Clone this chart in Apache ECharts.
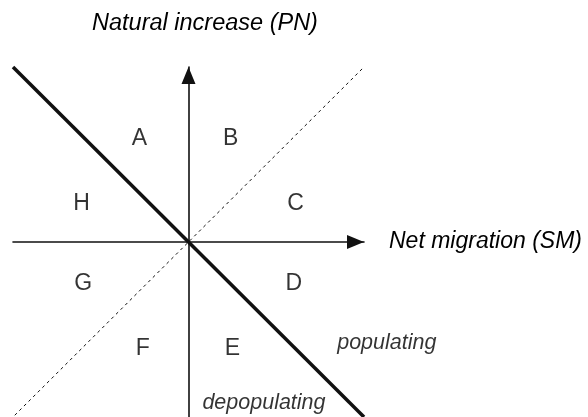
<!DOCTYPE html>
<html>
<head>
<meta charset="utf-8">
<script src="https://cdn.jsdelivr.net/npm/echarts@6/dist/echarts.min.js"></script>
<style>
  html, body { margin: 0; padding: 0; background: #fff; }
  #chart { width: 588px; height: 417px; }
</style>
</head>
<body>
<div id="chart"></div>
<script>
// region letters, placed in data units (axes run -1..1)
const regionNames = ['A', 'B', 'C', 'D', 'E', 'F', 'G', 'H']
const regionX = [-0.28, 0.24, 0.61, 0.60, 0.25, -0.26, -0.60, -0.61]
const regionY = [0.59, 0.59, 0.22, -0.24, -0.61, -0.61, -0.24, 0.22]

// the two dividing lines
const balanceLine = [[-1, 1], [1, -1]]      // thick: PN + SM = 0
const equalLine = [[-0.99, -0.99], [1, 1]]  // dashed: PN = SM

// side notes of the thick line
const noteNames = ['populating', 'depopulating']
const noteX = [1.13, 0.43]
const noteY = [-0.58, -0.92]

const xName = 'Net migration (SM)'
const yName = 'Natural increase (PN)'

const font = '"Liberation Sans", Arial, sans-serif'
const ink = '#111'

const chart = echarts.init(document.getElementById('chart'))

const axisBase = {
  type: 'value',
  min: -1,
  max: 1,
  splitLine: { show: false },
  axisTick: { show: false },
  axisLabel: { show: false },
  axisLine: {
    onZero: true,
    symbol: ['none', 'triangle'],
    symbolSize: [14, 17],
    symbolOffset: [0, -8.5],
    lineStyle: { color: ink, width: 1.6 }
  }
}

chart.setOption({
  animation: false,
  title: {
    text: yName,
    left: 87,
    top: 7,
    textStyle: { fontFamily: font, fontSize: 23.5, fontStyle: 'italic', fontWeight: 'normal', color: '#000' }
  },
  grid: { left: 13, top: 67, width: 351, height: 350 },
  xAxis: Object.assign({}, axisBase, {
    name: xName,
    nameLocation: 'end',
    nameGap: 25,
    nameTextStyle: { fontFamily: font, fontSize: 23, fontStyle: 'italic', color: '#000' }
  }),
  yAxis: Object.assign({}, axisBase),
  series: [
    {
      type: 'line',
      data: balanceLine,
      symbol: 'none',
      lineStyle: { color: ink, width: 3.5 },
      z: 3
    },
    {
      type: 'line',
      data: equalLine,
      symbol: 'none',
      lineStyle: { color: ink, width: 1, type: [3, 3.5] },
      z: 2
    },
    {
      type: 'scatter',
      symbolSize: 0,
      clip: false,
      data: regionNames.map((n, i) => ({ name: n, value: [regionX[i], regionY[i]] })),
      label: {
        show: true,
        position: 'inside',
        formatter: '{b}',
        fontFamily: font,
        fontSize: 23,
        color: '#000',
        textBorderWidth: 0
      }
    },
    {
      type: 'scatter',
      symbolSize: 0,
      clip: false,
      data: noteNames.map((n, i) => ({ name: n, value: [noteX[i], noteY[i]] })),
      label: {
        show: true,
        position: 'inside',
        formatter: '{b}',
        fontFamily: font,
        fontSize: 21.5,
        fontStyle: 'italic',
        color: '#000',
        textBorderWidth: 0
      }
    }
  ]
})
</script>
</body>
</html>
